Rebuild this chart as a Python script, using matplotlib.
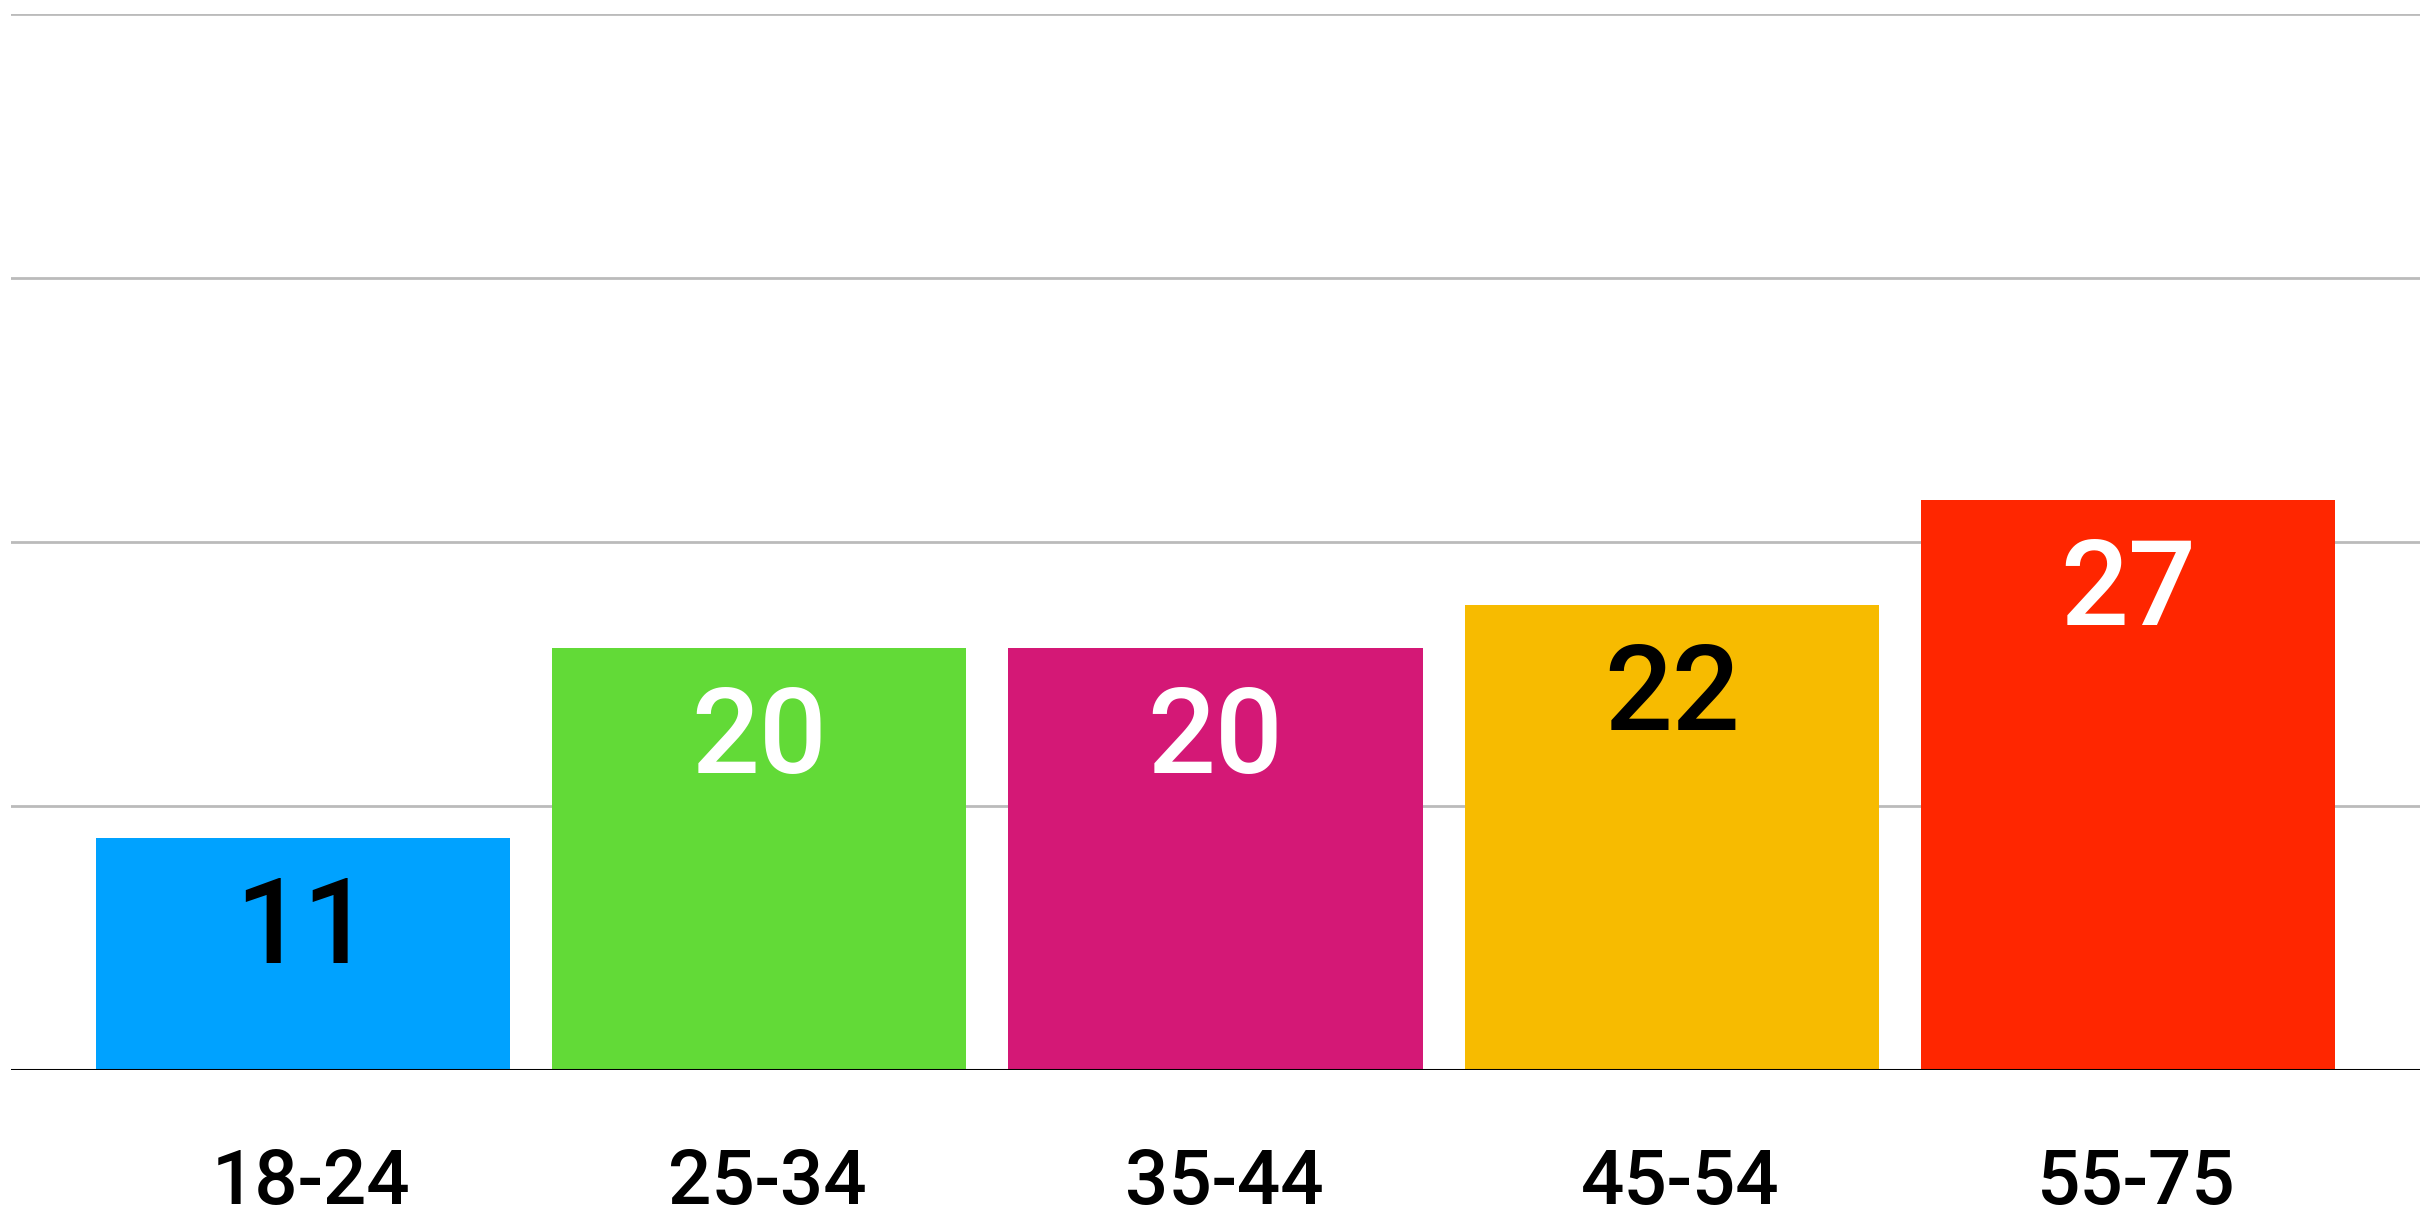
import numpy as np
import matplotlib
matplotlib.use('Agg')
import matplotlib.pyplot as plt

# data
age_groups = ['18-24', '25-34', '35-44', '45-54', '55-75']
values = [11, 20, 20, 22, 27]
bar_colors = ['#00a2ff', '#62da37', '#d41876', '#f7bb00', '#ff2600']
label_colors = ['black', 'white', 'white', 'black', 'white']

plt.rcParams['font.family'] = ['Roboto', 'DejaVu Sans']

fig = plt.figure(figsize=(24.35, 12.10), dpi=100)
ax = fig.add_axes([11 / 2435, 140 / 1210, 2409 / 2435, 1056 / 1210])

x = np.arange(len(values))
ax.bar(x, values, width=0.908, color=bar_colors, zorder=2)

ax.set_xlim(-0.64, len(values) - 1 + 0.64)
ax.set_ylim(0, 50)
ax.set_yticks([12.5, 25, 37.5, 50])
ax.yaxis.grid(True, color='#bbbbbb', linewidth=2, zorder=0)
ax.axhline(0, color='black', linewidth=2.2, zorder=3)

for s in ax.spines.values():
    s.set_visible(False)
ax.tick_params(left=False, bottom=False, labelleft=False, labelbottom=False)

for i, v in enumerate(values):
    ax.annotate(str(v), xy=(i, v), xytext=(0, -90), textcoords='offset points',
                ha='center', va='baseline', fontsize=86, fontweight='medium',
                color=label_colors[i])
    ax.annotate(age_groups[i], xy=(i, 0), xytext=(6, -96.5), textcoords='offset points',
                ha='center', va='baseline', fontsize=55, fontweight='medium',
                color='black', annotation_clip=False)

fig.savefig('out.png', dpi=100, facecolor='white')
